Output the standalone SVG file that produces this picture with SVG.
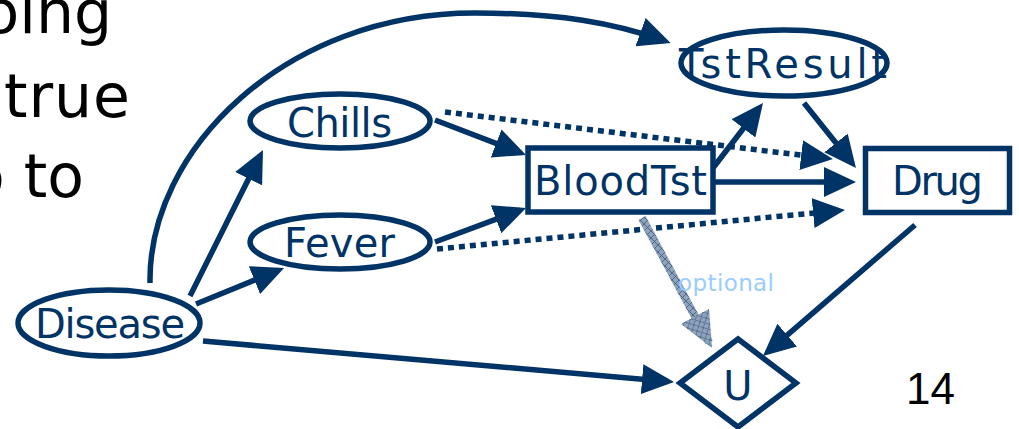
<svg xmlns="http://www.w3.org/2000/svg" width="1019" height="429" viewBox="0 0 1019 429">
<style>
.n{fill:#fff;stroke:#003366;stroke-width:5.5}
.t{font-family:"DejaVu Sans",sans-serif;fill:#003366;font-size:40px}
.e{fill:none;stroke:#003366;stroke-width:5.5}
.d{fill:none;stroke:#003366;stroke-width:5.5;stroke-dasharray:6 5}
.bk{font-family:"DejaVu Sans",sans-serif;fill:#000;font-size:60px}
</style>
<defs>
<marker id="ah" markerUnits="userSpaceOnUse" markerWidth="32" markerHeight="30" refX="26" refY="15" orient="auto"><path d="M0,0 L32,15 L0,30 z" fill="#003366"/></marker>
<pattern id="hatch" patternUnits="userSpaceOnUse" width="7" height="7"><rect width="7" height="7" fill="#8fa4bc"/><path d="M0,0 L7,7 M7,0 L0,7" stroke="#3d5b80" stroke-width="0.8"/></pattern>
<marker id="ah2" markerUnits="userSpaceOnUse" markerWidth="36" markerHeight="32" refX="30" refY="16" orient="auto"><path d="M0,0 L36,16 L0,32 z" fill="url(#hatch)"/></marker>
</defs>
<rect width="1019" height="429" fill="#fff"/>
<g id="side-text">
<text class="bk" x="112" y="33" text-anchor="end">oing</text>
<text class="bk" x="4" y="117" textLength="126">true</text>
<text class="bk" x="84" y="197" text-anchor="end">o to</text>
<text x="906" y="404" font-family="Liberation Sans,Arial,sans-serif" font-size="44" fill="#000">14</text>
</g>
<g id="connectors">
<line class="e" x1="190" y1="296" x2="260.3" y2="155.4" marker-end="url(#ah)"/>
<line class="e" x1="196" y1="304" x2="278.5" y2="270.3" marker-end="url(#ah)"/>
<line class="e" x1="203" y1="341" x2="668" y2="381.5" marker-end="url(#ah)"/>
<path class="e" d="M150,283 C148,150 285,13 475,13 C558,13 615,23 665,41" marker-end="url(#ah)"/>
<line class="e" x1="435" y1="120" x2="520.4" y2="152.8" marker-end="url(#ah)"/>
<line class="e" x1="435" y1="242" x2="520.4" y2="210.1" marker-end="url(#ah)"/>
<line class="d" x1="445" y1="112" x2="827" y2="158.3" marker-end="url(#ah)"/>
<line class="d" x1="437" y1="249" x2="839" y2="210.6" marker-end="url(#ah)"/>
<line class="e" x1="713" y1="168" x2="759.3" y2="107.8" marker-end="url(#ah)"/>
<line class="e" x1="713" y1="182" x2="850" y2="182" marker-end="url(#ah)"/>
<line class="e" x1="804" y1="103" x2="852.2" y2="163.3" marker-end="url(#ah)"/>
<line class="e" x1="915" y1="225" x2="767.5" y2="352.1" marker-end="url(#ah)"/>
<line x1="642" y1="218" x2="709.2" y2="342.7" stroke="url(#hatch)" stroke-width="8" marker-end="url(#ah2)"/>
<text x="678" y="291" font-family="DejaVu Sans,sans-serif" font-size="23" fill="#99ccff" textLength="96">optional</text>
</g>
<g id="Disease">
<ellipse class="n" cx="109" cy="323" rx="91" ry="33"/>
<text class="t" x="35" y="338" textLength="150">Disease</text>
</g>
<g id="Chills">
<ellipse class="n" cx="340" cy="121" rx="90" ry="27"/>
<text class="t" x="287" y="137" textLength="105">Chills</text>
</g>
<g id="Fever">
<ellipse class="n" cx="340" cy="242" rx="90" ry="27"/>
<text class="t" x="284" y="257" textLength="111">Fever</text>
</g>
<g id="BloodTst">
<rect class="n" x="528" y="148" width="185" height="64"/>
<text class="t" x="534" y="195" textLength="173">BloodTst</text>
</g>
<g id="TstResult">
<ellipse class="n" cx="784" cy="63" rx="103" ry="33"/>
<text class="t" x="679" y="78" font-size="43" textLength="208">TstResult</text>
</g>
<g id="Drug">
<rect class="n" x="865.5" y="148.5" width="144" height="64"/>
<text class="t" x="892" y="195" textLength="91">Drug</text>
</g>
<g id="U">
<polygon class="n" points="680,383 738,339 796,383 738,427"/>
<text class="t" x="738" y="400" font-size="42" text-anchor="middle">U</text>
</g>
</svg>
